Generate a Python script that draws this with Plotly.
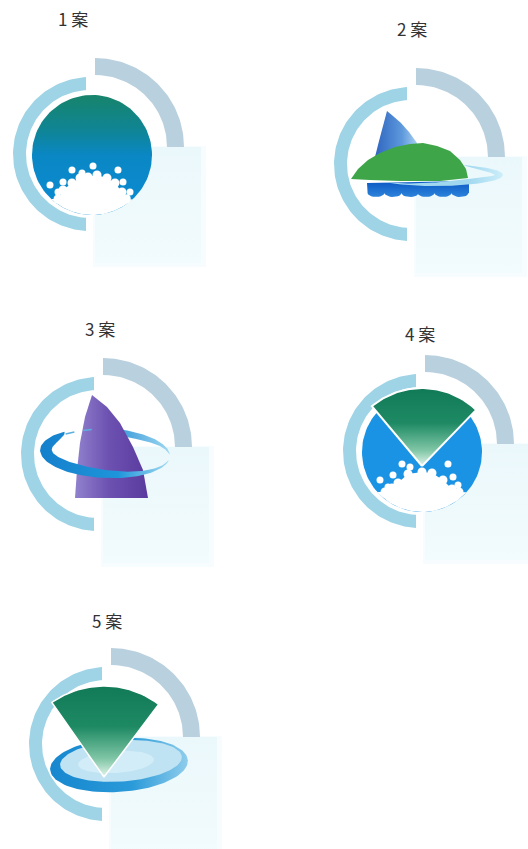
import numpy as np
import plotly.graph_objects as go

# ---------------- data ----------------
labels = ["1 案", "2 案", "3 案", "4 案", "5 案"]
label_x = [73, 412, 100, 420, 107]
label_y = [18, 28, 328, 333, 620]
center_x = [92, 413, 100, 422, 108]
center_y = [155, 165, 455, 452, 745]
designs = ["splash", "mountain", "sail", "fan_splash", "fan_ring"]

# splash bubbles / splash outline (offsets from emblem centre)
splash1_bubble_dx = [-42, -34, -29, -20, -10, 1, 26, 31, 38, 35]
splash1_bubble_dy = [30, 37, 27, 15, 18, 11, 15, 27, 37, 43]
splash1_top_dx = [-40, -34, -29, -20, -12, -4, 5, 15, 23, 30, 34, 40]
splash1_top_dy = [44, 44, 35, 28, 23, 22, 20, 23, 28, 37, 44, 44]

splash4_bubble_dx = [-42, -34, -29, -20, -12, 26, 31, 36]
splash4_bubble_dy = [28, 35, 23, 12, 15, 12, 25, 33]
splash4_top_dx = [-44, -37, -30, -24, -14, 0, 10, 21, 30, 37, 44]
splash4_top_dy = [40, 40, 36, 31, 22, 20, 21, 28, 37, 40, 40]

# mountain (design 2)
dome_dx = [-62, -55, -45, -33, -18, -3, 10, 24, 37, 47, 53, 55, 27, -13, -43]
dome_dy = [14, 4, -5, -12, -18, -21, -22, -19, -14, -5, 4, 13, 16, 16, 15]
peak_dx = [-26, -30, -34, -38, -40, 8, 4, -4, -12, -20]
peak_dy = [-54, -40, -24, -8, 5, 5, -22, -33, -42, -49]
wave_lobe_dx = [47, 30, 13, -3, -20, -37]

# sail (design 3)
sail_dx = [-8, -15, -20, -23, -25, 48, 43, 33, 20, 7]
sail_dy = [-60, -38, -12, 15, 43, 43, 15, -8, -32, -48]

fig = go.Figure()


def add_poly(xs, ys, color=None, grad=None, lc=None, lw=0):
    xs = list(xs) + [xs[0]]
    ys = list(ys) + [ys[0]]
    kw = dict(x=xs, y=ys, mode="lines", fill="toself", hoverinfo="skip",
              showlegend=False)
    if lw:
        kw["line"] = dict(color=lc, width=lw)
    else:
        kw["line"] = dict(color="rgba(0,0,0,0)", width=0)
    if grad is not None:
        kw["fillgradient"] = grad
    else:
        kw["fillcolor"] = color
    fig.add_trace(go.Scatter(**kw))


def vgrad(stops, a, b):
    return dict(type="vertical", colorscale=stops, start=a, stop=b)


def hgrad(stops, a, b):
    return dict(type="horizontal", colorscale=stops, start=a, stop=b)


def dots(xs, ys, size, color="white"):
    fig.add_trace(go.Scatter(x=list(xs), y=list(ys), mode="markers",
                             marker=dict(size=size, color=color, line=dict(width=0)),
                             hoverinfo="skip", showlegend=False))


def ellipse(cx, cy, rx, ry, rot=0.0, n=120):
    t = np.linspace(0, 2 * np.pi, n, endpoint=False)
    x = rx * np.cos(t)
    y = ry * np.sin(t)
    c, s = np.cos(np.radians(rot)), np.sin(np.radians(rot))
    return cx + x * c - y * s, cy + x * s + y * c


def crescent(cx, cy, rx, ry, t0, t1, wmax, peak=0.5, rot=0.0, n=90, wmin=0.6):
    t = np.radians(np.linspace(t0, t1, n))
    s = np.linspace(0, 1, n)
    p = np.log(0.5) / np.log(peak)
    w = wmin + (wmax - wmin) * np.sin(np.pi * s ** p)
    ox, oy = rx * np.cos(t), ry * np.sin(t)
    ix, iy = (rx - w) * np.cos(t), (ry - w) * np.sin(t)
    x = np.concatenate([ox, ix[::-1]])
    y = np.concatenate([oy, iy[::-1]])
    c, sn = np.cos(np.radians(rot)), np.sin(np.radians(rot))
    return cx + x * c - y * sn, cy + x * sn + y * c


def sector(ax, ay, r, a0, a1, n=60):
    a = np.radians(np.linspace(a0, a1, n))
    xs = [ax] + list(ax + r * np.sin(a))
    ys = [ay] + list(ay - r * np.cos(a))
    return xs, ys


def frame(cx, cy):
    # pale square (soft edge)
    add_poly([cx + 1, cx + 114, cx + 114, cx + 1], [cy - 9, cy - 9, cy + 112, cy + 112],
             color="#f7fcfe")
    add_poly([cx + 3, cx + 109, cx + 109, cx + 3], [cy - 8, cy - 8, cy + 108, cy + 108],
             grad=vgrad([[0, "#ebf8fb"], [1, "#f2fbfd"]], cy - 8, cy + 108))
    # left ring
    ccx, ccy, ro, ri, cut = cx - 2, cy - 1, 77, 64, -4
    to = np.linspace(np.arccos(cut / ro), 2 * np.pi - np.arccos(cut / ro), 100)
    ti = np.linspace(2 * np.pi - np.arccos(cut / ri), np.arccos(cut / ri), 100)
    xs = np.concatenate([ccx + ro * np.cos(to), ccx + ri * np.cos(ti)])
    ys = np.concatenate([ccy + ro * np.sin(to), ccy + ri * np.sin(ti)])
    add_poly(xs, ys, color="#9ed4e6")
    # top-right quarter arc
    ccx, ccy, ro, ri = cx + 3, cy - 8, 89, 72
    t = np.linspace(-np.pi / 2, 0, 60)
    xs = np.concatenate([ccx + ro * np.cos(t), ccx + ri * np.cos(t[::-1])])
    ys = np.concatenate([ccy + ro * np.sin(t), ccy + ri * np.sin(t[::-1])])
    add_poly(xs, ys, color="#b9d0de")


def splash(cx, cy, r, tdx, tdy, bdx, bdy):
    xs = [cx + d for d in tdx]
    ys = [cy + d for d in tdy]
    a0 = np.arctan2(tdy[-1], tdx[-1])
    a1 = np.arctan2(tdy[0], tdx[0])
    t = np.linspace(a0, a1, 60)
    xs += list(cx + r * np.cos(t))
    ys += list(cy + r * np.sin(t))
    add_poly(xs, ys, color="white")
    dots([cx + d for d in tdx[1:-1]], [cy + d for d in tdy[1:-1]], 9)
    dots([cx + d for d in bdx], [cy + d for d in bdy], 7)


green_fan = [[0, "#117a57"], [0.45, "#1e8a64"], [0.8, "#80c6a6"], [1, "#e4f5ec"]]

for i, kind in enumerate(designs):
    cx, cy = center_x[i], center_y[i]
    frame(cx, cy)
    if kind == "splash":
        ex, ey = ellipse(cx, cy, 60, 60)
        add_poly(ex, ey, grad=vgrad([[0, "#17846b"], [0.3, "#0f8596"], [0.5, "#0a87c4"],
                                     [1, "#0a8bd4"]], cy - 60, cy + 60))
        splash(cx, cy, 60, splash1_top_dx, splash1_top_dy, splash1_bubble_dx, splash1_bubble_dy)
    elif kind == "mountain":
        add_poly([cx + d for d in peak_dx], [cy + d for d in peak_dy],
                 grad=hgrad([[0, "#2c62bd"], [0.6, "#5d98dc"], [1, "#b8ddf6"]], cx - 40, cx + 8))
        wx = [cx - 46, cx + 56, cx + 56]
        wy = [cy + 18, cy + 16, cy + 28]
        th = np.linspace(0, np.pi, 14)
        for lc in wave_lobe_dx:
            wx += list(cx + lc + 8.4 * np.cos(th))
            wy += list(cy + 28 + 4 * np.sin(th))
        add_poly(wx, wy, grad=vgrad([[0, "#0b58c4"], [1, "#2f86dc"]], cy + 16, cy + 33))
        add_poly([cx + d for d in dome_dx], [cy + d for d in dome_dy], color="#3ea548")
        sx, sy = crescent(cx + 22, cy + 10, 68, 11, 140, -65, 8, peak=0.62)
        add_poly(sx, sy, grad=hgrad([[0, "#a3d9ef"], [0.7, "#9fd7ef"], [1, "#cdeef9"]],
                                    cx - 30, cx + 90))
    elif kind == "sail":
        bx, by = crescent(cx + 5, cy - 2, 65, 25, -100, -5, 7, peak=0.35, rot=3)
        add_poly(bx, by, grad=hgrad([[0, "#1583cf"], [1, "#9fd9f2"]], cx, cx + 70))
        add_poly([cx + d for d in sail_dx], [cy + d for d in sail_dy],
                 grad=hgrad([[0, "#9182cd"], [0.45, "#6d52b2"], [1, "#5a3a9e"]], cx - 25, cx + 48))
        fx, fy = crescent(cx + 5, cy - 2, 65, 25, 230, 10, 12, peak=0.3, rot=3)
        add_poly(fx, fy, grad=hgrad([[0, "#1580cc"], [0.6, "#1e95da"], [1, "#a8ddf2"]],
                                    cx - 60, cx + 70))
        tl = np.radians(np.linspace(232, 258, 20))
        fig.add_trace(go.Scatter(x=cx + 5 + 64 * np.cos(tl), y=cy - 2 + 24 * np.sin(tl),
                                 mode="lines", line=dict(color="#5ab0e0", width=1.5, dash="dash"),
                                 hoverinfo="skip", showlegend=False))
    elif kind == "fan_splash":
        ex, ey = ellipse(cx, cy, 60, 60)
        add_poly(ex, ey, color="#1a93e4")
        splash(cx, cy, 60, splash4_top_dx, splash4_top_dy, splash4_bubble_dx, splash4_bubble_dy)
        fx, fy = sector(cx, cy + 14, 78, -40, 44)
        add_poly(fx, fy, grad=vgrad(green_fan, cy - 64, cy + 14), lc="white", lw=2)
    elif kind == "fan_ring":
        e0x, e0y = ellipse(cx + 11, cy + 20, 69, 27, rot=-4)
        add_poly(e0x, e0y, grad=hgrad([[0, "#1686cf"], [0.6, "#2a9ad9"], [1, "#8fcdec"]],
                                      cx - 60, cx + 80))
        e1x, e1y = ellipse(cx + 13, cy + 16, 61, 20.5, rot=-4)
        add_poly(e1x, e1y, color="#bfe3f3")
        e2x, e2y = ellipse(cx + 8, cy + 17, 38, 11, rot=-4)
        add_poly(e2x, e2y, color="#d3edf8")
        fx, fy = sector(cx - 4, cy + 32, 91, -35, 37)
        add_poly(fx, fy, grad=vgrad(green_fan, cy - 59, cy + 32), lc="white", lw=1.5)

annotations = [dict(x=label_x[i], y=label_y[i], text=labels[i], showarrow=False,
                    xref="x", yref="y",
                    font=dict(family="Noto Sans CJK JP", size=17, color="#333333"))
               for i in range(len(labels))]

fig.update_layout(
    width=528, height=849,
    margin=dict(l=0, r=0, t=0, b=0),
    paper_bgcolor="white", plot_bgcolor="white",
    xaxis=dict(range=[0, 528], visible=False, fixedrange=True),
    yaxis=dict(range=[849, 0], visible=False, fixedrange=True),
    showlegend=False,
    annotations=annotations,
)
fig.write_html("out.html", config={"displayModeBar": False},
               post_script="document.body.style.margin='0px';")
